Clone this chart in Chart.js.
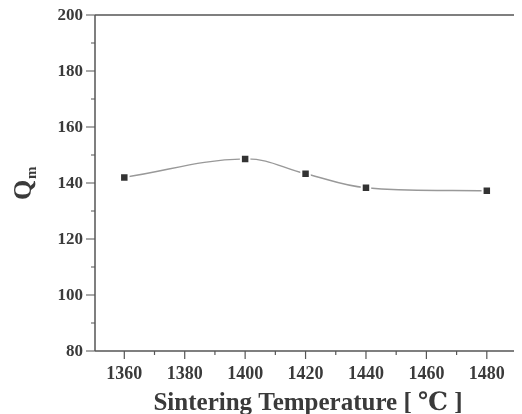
<!DOCTYPE html>
<html>
<head>
<meta charset="utf-8">
<script src="https://cdn.jsdelivr.net/npm/chart.js@4/dist/chart.umd.min.js"></script>
<style>
  html, body { margin: 0; padding: 0; background: #fff; }
  #wrap { width: 522px; height: 414px; }
</style>
</head>
<body>
<div id="wrap"><canvas id="chart"></canvas></div>
<script>
// data
const temps = [1360, 1400, 1420, 1440, 1480];
const qm = [142.0, 148.6, 143.3, 138.3, 137.2];
const xTicks = [1360, 1380, 1400, 1420, 1440, 1460, 1480];
const yTicks = [80, 100, 120, 140, 160, 180, 200];
const xTitle = 'Sintering Temperature [ \u2103 ]';

const FONT = '"Liberation Serif", "DejaVu Serif", serif';

// axes, ticks and titles drawn by hand to look like the Origin plot
const frame = {
  id: 'frame',
  afterDraw(chart) {
    const ctx = chart.ctx;
    const a = chart.chartArea;
    const xs = chart.scales.x, ys = chart.scales.y;
    ctx.save();
    ctx.strokeStyle = '#555';
    ctx.lineWidth = 1.5;
    ctx.beginPath();
    ctx.moveTo(a.left, a.top); ctx.lineTo(a.right, a.top);
    ctx.moveTo(a.left, a.top); ctx.lineTo(a.left, a.bottom);
    ctx.moveTo(a.left, a.bottom); ctx.lineTo(a.right, a.bottom);
    ctx.stroke();

    ctx.lineWidth = 1.2;
    ctx.beginPath();
    yTicks.forEach((v, i) => {
      const y = ys.getPixelForValue(v);
      ctx.moveTo(a.left - 9, y); ctx.lineTo(a.left, y);
      if (i < yTicks.length - 1) {
        const ym = ys.getPixelForValue(v + 10);
        ctx.moveTo(a.left - 4, ym); ctx.lineTo(a.left, ym);
      }
    });
    xTicks.forEach(v => {
      const x = xs.getPixelForValue(v);
      ctx.moveTo(x, a.bottom); ctx.lineTo(x, a.bottom + 8);
      const xm = xs.getPixelForValue(v + 10);
      if (xm < a.right) { ctx.moveTo(xm, a.bottom); ctx.lineTo(xm, a.bottom + 4); }
    });
    ctx.stroke();

    ctx.fillStyle = '#3a3a3a';
    ctx.font = 'bold 17px ' + FONT;
    ctx.textAlign = 'right';
    ctx.textBaseline = 'middle';
    yTicks.forEach(v => ctx.fillText(String(v), a.left - 12, ys.getPixelForValue(v) + 1));
    ctx.font = 'bold 18px ' + FONT;
    ctx.textAlign = 'center';
    ctx.textBaseline = 'top';
    xTicks.forEach(v => ctx.fillText(String(v), xs.getPixelForValue(v), a.bottom + 14));

    ctx.font = 'bold 25px ' + FONT;
    ctx.textBaseline = 'alphabetic';
    ctx.fillText(xTitle, 308, 410);

    // y title: Q with subscript m, rotated
    ctx.translate(31, 186);
    ctx.rotate(-Math.PI / 2);
    ctx.textAlign = 'left';
    ctx.font = 'bold 26px ' + FONT;
    const qw = ctx.measureText('Q').width;
    ctx.fillText('Q', -qw / 2 - 4, 0);
    ctx.font = 'bold 15px ' + FONT;
    ctx.fillText('m', qw / 2 - 3, 5);
    ctx.restore();
  }
};

new Chart(document.getElementById('chart'), {
  type: 'line',
  data: {
    datasets: [{
      data: temps.map((t, i) => ({ x: t, y: qm[i] })),
      borderColor: '#999',
      borderWidth: 1.4,
      tension: 0.4,
      pointStyle: 'rect',
      pointRadius: 6,
      pointBackgroundColor: '#333',
      pointBorderColor: '#fff',
      pointBorderWidth: 2,
      fill: false
    }]
  },
  options: {
    responsive: true,
    maintainAspectRatio: false,
    animation: false,
    layout: { padding: { left: 95, top: 15, right: 0, bottom: 63 } },
    plugins: { legend: { display: false }, tooltip: { enabled: false } },
    scales: {
      x: { type: 'linear', min: 1350.3, max: 1489, display: false },
      y: { min: 80, max: 200, display: false }
    }
  },
  plugins: [frame]
});
</script>
</body>
</html>
